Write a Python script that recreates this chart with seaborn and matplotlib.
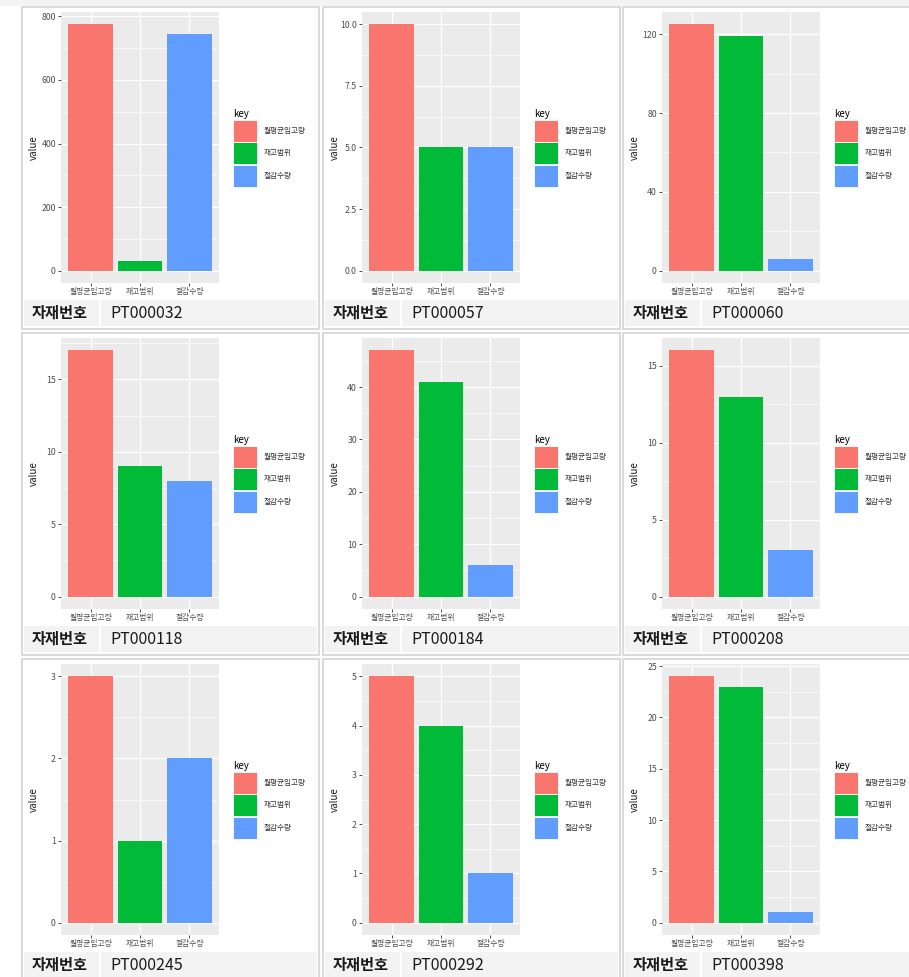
import matplotlib.pyplot as plt
from matplotlib.patches import Rectangle, Patch
from matplotlib.ticker import MultipleLocator, FormatStrFormatter
import pandas as pd
import seaborn as sns

plt.rcParams['font.family'] = ['Noto Sans CJK KR', 'DejaVu Sans']

# values
part_ids = ['PT000032', 'PT000057', 'PT000060',
            'PT000118', 'PT000184', 'PT000208',
            'PT000245', 'PT000292', 'PT000398']
keys = ['월평균입고량', '재고범위', '절감수량']
monthly_in = [775, 10, 125, 17, 47, 16, 3, 5, 24]
stock_range = [30, 5, 119, 9, 41, 13, 1, 4, 23]
reduction = [743, 5, 6, 8, 6, 3, 2, 1, 1]
y_steps = [200, 2.5, 40, 5, 10, 5, 1, 1, 5]

colors = ['#F8766D', '#00BA38', '#619CFF']

W, H = 909, 977
fig = plt.figure(figsize=(W / 100, H / 100), dpi=100)
fig.patch.set_facecolor('white')


def fx(px):
    return px / W


def fy(py):
    return 1 - py / H


def box(x, y, w, h, **kw):
    # rectangle given in pixel coords (top-left origin)
    r = Rectangle((fx(x), fy(y + h)), w / W, h / H, transform=fig.transFigure, **kw)
    fig.add_artist(r)
    return r


# faint strip on top of the page
box(0, 0, W, 6, facecolor='#f4f4f4', edgecolor='none', zorder=-3)

col_x = [22, 323, 623]
row_y = [7, 333, 659]
PW, PH = 297, 322

for i, pid in enumerate(part_ids):
    r, c = divmod(i, 3)
    x0, y0 = col_x[c], row_y[r]

    # card
    box(x0, y0, PW, PH, facecolor='white', edgecolor='#d8d8d8', lw=1.3, zorder=-2)
    # caption strip
    box(x0 + 2, y0 + 293, PW - 4, 26, facecolor='#f3f3f3', edgecolor='none', zorder=-1)
    box(x0 + 77, y0 + 293, 2, 26, facecolor='white', edgecolor='none', zorder=-0.5)
    fig.text(fx(x0 + 10), fy(y0 + 306), '자재번호', fontsize=11, fontweight='bold',
             color='#1a1a1a', va='center', ha='left')
    fig.text(fx(x0 + 88), fy(y0 + 306), pid, fontsize=11.5,
             color='#1a1a1a', va='center', ha='left')

    # plot panel
    ax = fig.add_axes([fx(x0 + 39), fy(y0 + 276), 158 / W, 271 / H])
    df = pd.DataFrame({'key': keys,
                       'value': [monthly_in[i], stock_range[i], reduction[i]]})
    sns.barplot(data=df, x='key', y='value', hue='key', palette=colors,
                saturation=1, width=0.9, dodge=False, legend=False, ax=ax,
                linewidth=0)

    vmax = df['value'].max()
    ax.set_ylim(-0.05 * vmax, 1.05 * vmax)
    ax.set_xlim(-0.6, 2.6)
    step = y_steps[i]
    ax.yaxis.set_major_locator(MultipleLocator(step))
    ax.yaxis.set_minor_locator(MultipleLocator(step / 2))
    if step != int(step):
        ax.yaxis.set_major_formatter(FormatStrFormatter('%.1f'))
    else:
        ax.yaxis.set_major_formatter(FormatStrFormatter('%d'))

    ax.set_facecolor('#EBEBEB')
    ax.set_axisbelow(True)
    ax.grid(which='major', color='white', lw=0.9)
    ax.grid(which='minor', axis='y', color='white', lw=0.45)
    for s in ax.spines.values():
        s.set_visible(False)
    ax.tick_params(which='major', length=2.2, width=0.6, color='#333333',
                   labelcolor='#4D4D4D', pad=1.5)
    ax.tick_params(axis='y', labelsize=6.3)
    ax.tick_params(axis='x', labelsize=5.6)
    ax.tick_params(which='minor', length=0)
    ax.set_xlabel('')
    ax.set_ylabel('value', fontsize=7, color='#1a1a1a')
    ax.yaxis.set_label_coords(-0.14, 0.5)

    handles = [Patch(facecolor=col, edgecolor='white', lw=0.6) for col in colors]
    leg = ax.legend(handles, keys, title='key', loc='center left',
                    bbox_to_anchor=(fx(x0 + 211), fy(y0 + 141)),
                    bbox_transform=fig.transFigure,
                    frameon=False, fontsize=5.5, title_fontsize=7,
                    handlelength=3.2, handleheight=4.05, labelspacing=0.05,
                    handletextpad=0.75, borderpad=0, borderaxespad=0,
                    alignment='left')
    for t in leg.get_texts():
        t.set_color('#333333')

fig.savefig('out.png', dpi=100)
